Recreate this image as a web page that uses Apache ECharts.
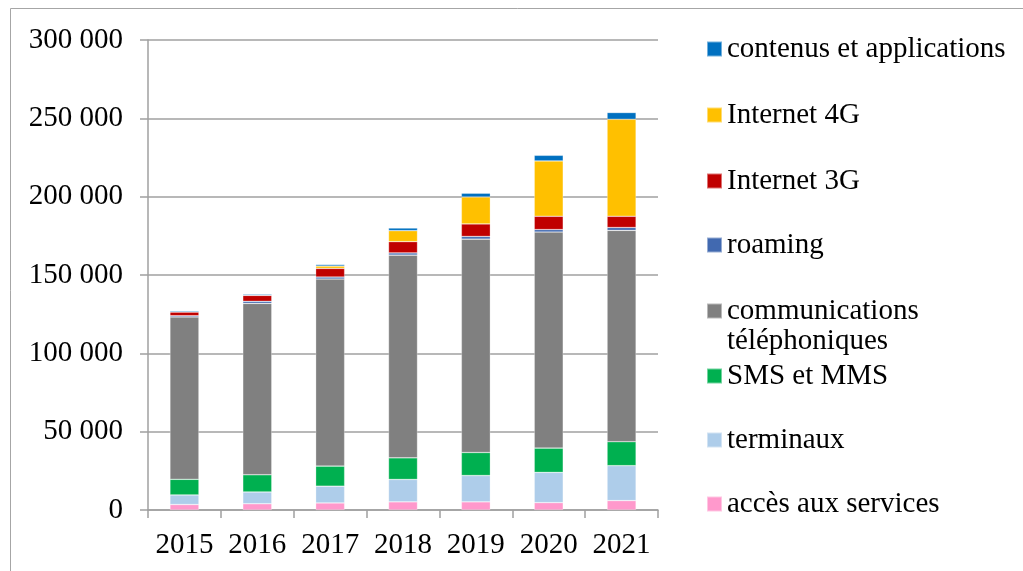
<!DOCTYPE html>
<html>
<head>
<meta charset="utf-8">
<script src="https://cdn.jsdelivr.net/npm/echarts@6/dist/echarts.min.js"></script>
<style>html,body{margin:0;padding:0;background:#fff;}#c{width:1023px;height:571px;}</style>
</head>
<body>
<div id="c"></div>
<script>
var years = ['2015', '2016', '2017', '2018', '2019', '2020', '2021'];
var accesServices = [3500, 4000, 4500, 5200, 5200, 4700, 6000];
var terminaux = [6100, 7500, 10700, 14300, 16800, 19300, 22300];
var smsMms = [10000, 11000, 12800, 13800, 14700, 15500, 15300];
var communications = [103600, 109400, 119400, 129400, 136200, 137900, 134900];
var roaming = [800, 1300, 1300, 1400, 1700, 1600, 1800];
var internet3G = [2400, 3800, 5500, 7200, 8000, 8500, 7200];
var internet4G = [0, 0, 1500, 7000, 17200, 35300, 61900];
var contenus = [700, 700, 1000, 1700, 2400, 3600, 4300];
var yTicks = [0, 50000, 100000, 150000, 200000, 250000, 300000];

var seriesDefs = [
  {name: 'accès aux services', data: accesServices, color: '#FF99CC', legendCenter: 504},
  {name: 'terminaux', data: terminaux, color: '#AECDEA', legendCenter: 440},
  {name: 'SMS et MMS', data: smsMms, color: '#00B050', legendCenter: 376},
  {name: 'communications téléphoniques', data: communications, color: '#808080', legendCenter: 311, twoLines: true},
  {name: 'roaming', data: roaming, color: '#4169B0', legendCenter: 245},
  {name: 'Internet 3G', data: internet3G, color: '#C00000', legendCenter: 181},
  {name: 'Internet 4G', data: internet4G, color: '#FFC000', legendCenter: 115},
  {name: 'contenus et applications', data: contenus, color: '#0070C0', legendCenter: 49}
];

var FONT = '"Liberation Serif", "Times New Roman", serif';
var FS = 29;

function fmt(v) {
  var s = String(Math.round(v));
  return s.replace(/\B(?=(\d{3})+(?!\d))/g, ' ');
}

var series = seriesDefs.map(function (d) {
  return {
    name: d.name,
    type: 'bar',
    stack: 'total',
    barWidth: 29,
    data: d.data,
    itemStyle: {color: d.color, borderColor: 'rgba(255,255,255,0.45)', borderWidth: 0.6},
    emphasis: {disabled: true}
  };
});

var legends = seriesDefs.map(function (d) {
  var lg = {
    left: 706,
    top: d.twoLines ? d.legendCenter - 45 : d.legendCenter - 15,
    orient: 'vertical',
    padding: 0,
    itemWidth: 15,
    itemHeight: 15,
    icon: 'rect',
    selectedMode: false,
    data: [d.name],
    textStyle: {fontFamily: FONT, fontSize: FS, color: '#000', lineHeight: 30}
  };
  if (d.twoLines) {
    lg.formatter = function () { return '\ncommunications\ntéléphoniques'; };
  }
  return lg;
});

var chart = echarts.init(document.getElementById('c'), null, {renderer: 'canvas'});
chart.setOption({
  animation: false,
  backgroundColor: '#fff',
  graphic: [{
    type: 'rect',
    shape: {x: 10.5, y: 8.5, width: 1100, height: 700},
    style: {fill: 'none', stroke: '#A6A6A6', lineWidth: 1},
    silent: true
  }],
  grid: {left: 148, right: 365, top: 40, bottom: 61},
  legend: legends,
  xAxis: {
    type: 'category',
    data: years,
    axisLine: {lineStyle: {color: '#A0A0A0', width: 1.5}},
    axisTick: {show: true, alignWithLabel: false, interval: 0, length: 8, lineStyle: {color: '#A0A0A0', width: 1.5}},
    axisLabel: {interval: 0, fontFamily: FONT, fontSize: FS, color: '#000', margin: 21}
  },
  yAxis: {
    type: 'value',
    min: yTicks[0],
    max: yTicks[yTicks.length - 1],
    interval: yTicks[1] - yTicks[0],
    axisLine: {show: true, lineStyle: {color: '#A0A0A0', width: 1.5}},
    axisTick: {show: true, length: 8, lineStyle: {color: '#A0A0A0', width: 1.5}},
    splitLine: {lineStyle: {color: '#A0A0A0', width: 1.5}},
    axisLabel: {fontFamily: FONT, fontSize: FS, color: '#000', margin: 25, formatter: fmt}
  },
  series: series
});
</script>
</body>
</html>
